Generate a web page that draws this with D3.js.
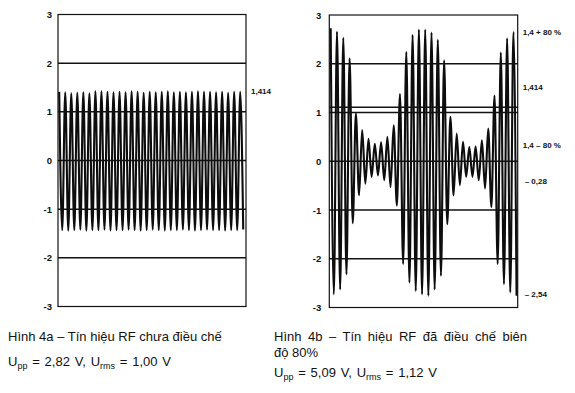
<!DOCTYPE html>
<html><head><meta charset="utf-8">
<script src="https://cdn.jsdelivr.net/npm/d3@7"></script>
<style>
html,body{margin:0;padding:0;background:#fff;}
svg{display:block;font-family:"Liberation Sans",Arial,sans-serif;}
</style></head>
<body>
<svg id="c" width="575" height="393"></svg>
<script>
// ---- data ----
const yTicks = [3, 2, 1, 0, -1, -2, -3];
const tickLabels = ["3", "2", "1", "0", "-1", "-2", "-3"];
const gridA = [2, 1, 0, -1, -2];
const gridB = [2, 1.11, 1, 0, -1, -2];

// Fig 4a: unmodulated carrier – peak / trough value of each cycle
const peaksA = [1.41,1.40,1.38,1.39,1.40,1.38,1.42,1.42,1.41,1.40,1.41,1.40,1.42,1.41,1.39,1.41,1.40,1.41,1.42,1.40,1.41,1.40,1.41,1.42,1.41,1.41,1.40,1.41,1.39,1.41,1.41];
const troughsA = [-1.43,-1.44,-1.43,-1.42,-1.44,-1.43,-1.43,-1.42,-1.44,-1.43,-1.43,-1.42,-1.43,-1.44,-1.43,-1.42,-1.43,-1.44,-1.43,-1.43,-1.42,-1.43,-1.44,-1.43,-1.42,-1.43,-1.43,-1.44,-1.43,-1.43,-1.42];

// Fig 4b: 80 % AM – peak / trough value of each carrier cycle
const peaksB = [2.73,2.66,2.53,2.11,0.98,0.64,0.46,0.36,0.39,0.50,0.74,1.38,2.24,2.59,2.70,2.70,2.64,2.49,2.07,0.91,0.57,0.40,0.29,0.30,0.43,0.67,1.35,2.23,2.52,2.65];
const troughsB = [-2.73,-2.63,-2.32,-1.27,-0.70,-0.46,-0.32,-0.29,-0.39,-0.53,-0.91,-2.11,-2.49,-2.66,-2.73,-2.76,-2.63,-2.35,-1.29,-0.70,-0.49,-0.32,-0.32,-0.39,-0.56,-0.94,-2.11,-2.52,-2.69,-2.76];

const rightLabelsA = ["1,414"];
const rightLabelValsA = [1.414];
const rightLabelsB = ["1,4 + 80 %", "1,414", "1,4 – 80 %", "– 0,28", "– 2,54"];
const rightLabelValsB = [2.64, 1.51, 0.33, -0.41, -2.72];

const captionA = ["Hình 4a – Tín hiệu RF chưa điều chế"];
const captionB = ["Hình 4b – Tín hiệu RF đã điều chế biên", "độ 80%"];
const formulaA = ["2,82 V", "1,00 V"];
const formulaB = ["5,09 V", "1,12 V"];

// ---- drawing ----
const svg = d3.select("#c");
const ink = "#111";

function panel(cfg) {
  const x = d3.scaleLinear().domain(cfg.xDomain).range([cfg.left, cfg.right]);
  const y = d3.scaleLinear().domain([-3, 3]).range([cfg.bottom, cfg.top]);
  const g = svg.append("g");

  // waveform
  const pts = [];
  cfg.peaks.forEach((p, i) => {
    pts.push([i, p]);
    if (i < cfg.troughs.length) pts.push([i + 0.5, cfg.troughs[i]]);
  });
  g.append("path")
    .datum(pts)
    .attr("fill", "none")
    .attr("stroke", "#0d0d0d")
    .attr("stroke-width", 2.1)
    .attr("stroke-linejoin", "round")
    .attr("d", d3.line().x(d => x(d[0])).y(d => y(d[1])).curve(d3.curveMonotoneX));

  // grid
  g.selectAll(".grid").data(cfg.grid).enter().append("line")
    .attr("x1", cfg.left).attr("x2", cfg.right)
    .attr("y1", d => y(d)).attr("y2", d => y(d))
    .attr("stroke", ink).attr("stroke-width", 1.5);

  // frame
  g.append("rect")
    .attr("x", cfg.left).attr("y", y(3))
    .attr("width", cfg.right - cfg.left).attr("height", y(-3) - y(3))
    .attr("fill", "none").attr("stroke", ink).attr("stroke-width", 1.2);

  // left axis
  const axis = d3.axisLeft(y).tickValues(yTicks)
    .tickFormat((d, i) => tickLabels[i]).tickSize(0).tickPadding(cfg.pad);
  const ag = g.append("g").attr("transform", `translate(${cfg.left},0)`).call(axis);
  ag.select(".domain").remove();
  ag.selectAll("text").attr("font-size", 9.5).attr("font-weight", "bold")
    .attr("fill", ink).attr("font-family", "Liberation Sans, Arial, sans-serif");

  // right labels
  g.selectAll(".rl").data(cfg.rLabels).enter().append("text")
    .attr("x", (d, i) => cfg.right + cfg.rPad + (d.startsWith("–") ? 2 : 0))
    .attr("y", (d, i) => y(cfg.rVals[i]))
    .attr("dy", "0.35em")
    .attr("font-size", 8).attr("font-weight", "bold").attr("fill", ink)
    .text(d => d);
}

panel({ left: 58, right: 246, top: 14.5, bottom: 306.5, xDomain: [-0.2, 30.96],
  peaks: peaksA, troughs: troughsA, grid: gridA, pad: 6, rPad: 5,
  rLabels: rightLabelsA, rVals: rightLabelValsA });
panel({ left: 329.3, right: 517.7, top: 15, bottom: 307.5, xDomain: [-0.22, 29.68],
  peaks: peaksB, troughs: troughsB, grid: gridB, pad: 8, rPad: 5,
  rLabels: rightLabelsB, rVals: rightLabelValsB });

// stretch inter-word spaces so a line fills a given width (justified text)
function justify(sel, width) {
  const node = sel.node();
  const natural = node.getComputedTextLength();
  const spaces = (node.textContent.match(/ /g) || []).length;
  if (spaces > 0 && width > natural) sel.attr("word-spacing", (width - natural) / spaces);
}

// captions
function caption(x, lines, y0, dyLine, formula, yF, line1Width) {
  const t = svg.append("g").attr("font-size", 13).attr("fill", ink);
  lines.forEach((s, i) => {
    const el = t.append("text").attr("x", x).attr("y", y0 + i * dyLine).text(s);
    if (i === 0 && line1Width) justify(el, line1Width);
  });
  const f = t.append("text").attr("x", x).attr("y", yF).attr("word-spacing", 1.2);
  f.append("tspan").text("U");
  f.append("tspan").attr("font-size", 9).attr("dy", 3).text("pp");
  f.append("tspan").attr("dy", -3).text(" = " + formula[0] + ", U");
  f.append("tspan").attr("font-size", 9).attr("dy", 3).text("rms");
  f.append("tspan").attr("dy", -3).text(" = " + formula[1]);
}
caption(8, captionA, 341, 16, formulaA, 365.5, null);
caption(274, captionB, 341, 16, formulaB, 377, 253);
</script>
</body></html>
